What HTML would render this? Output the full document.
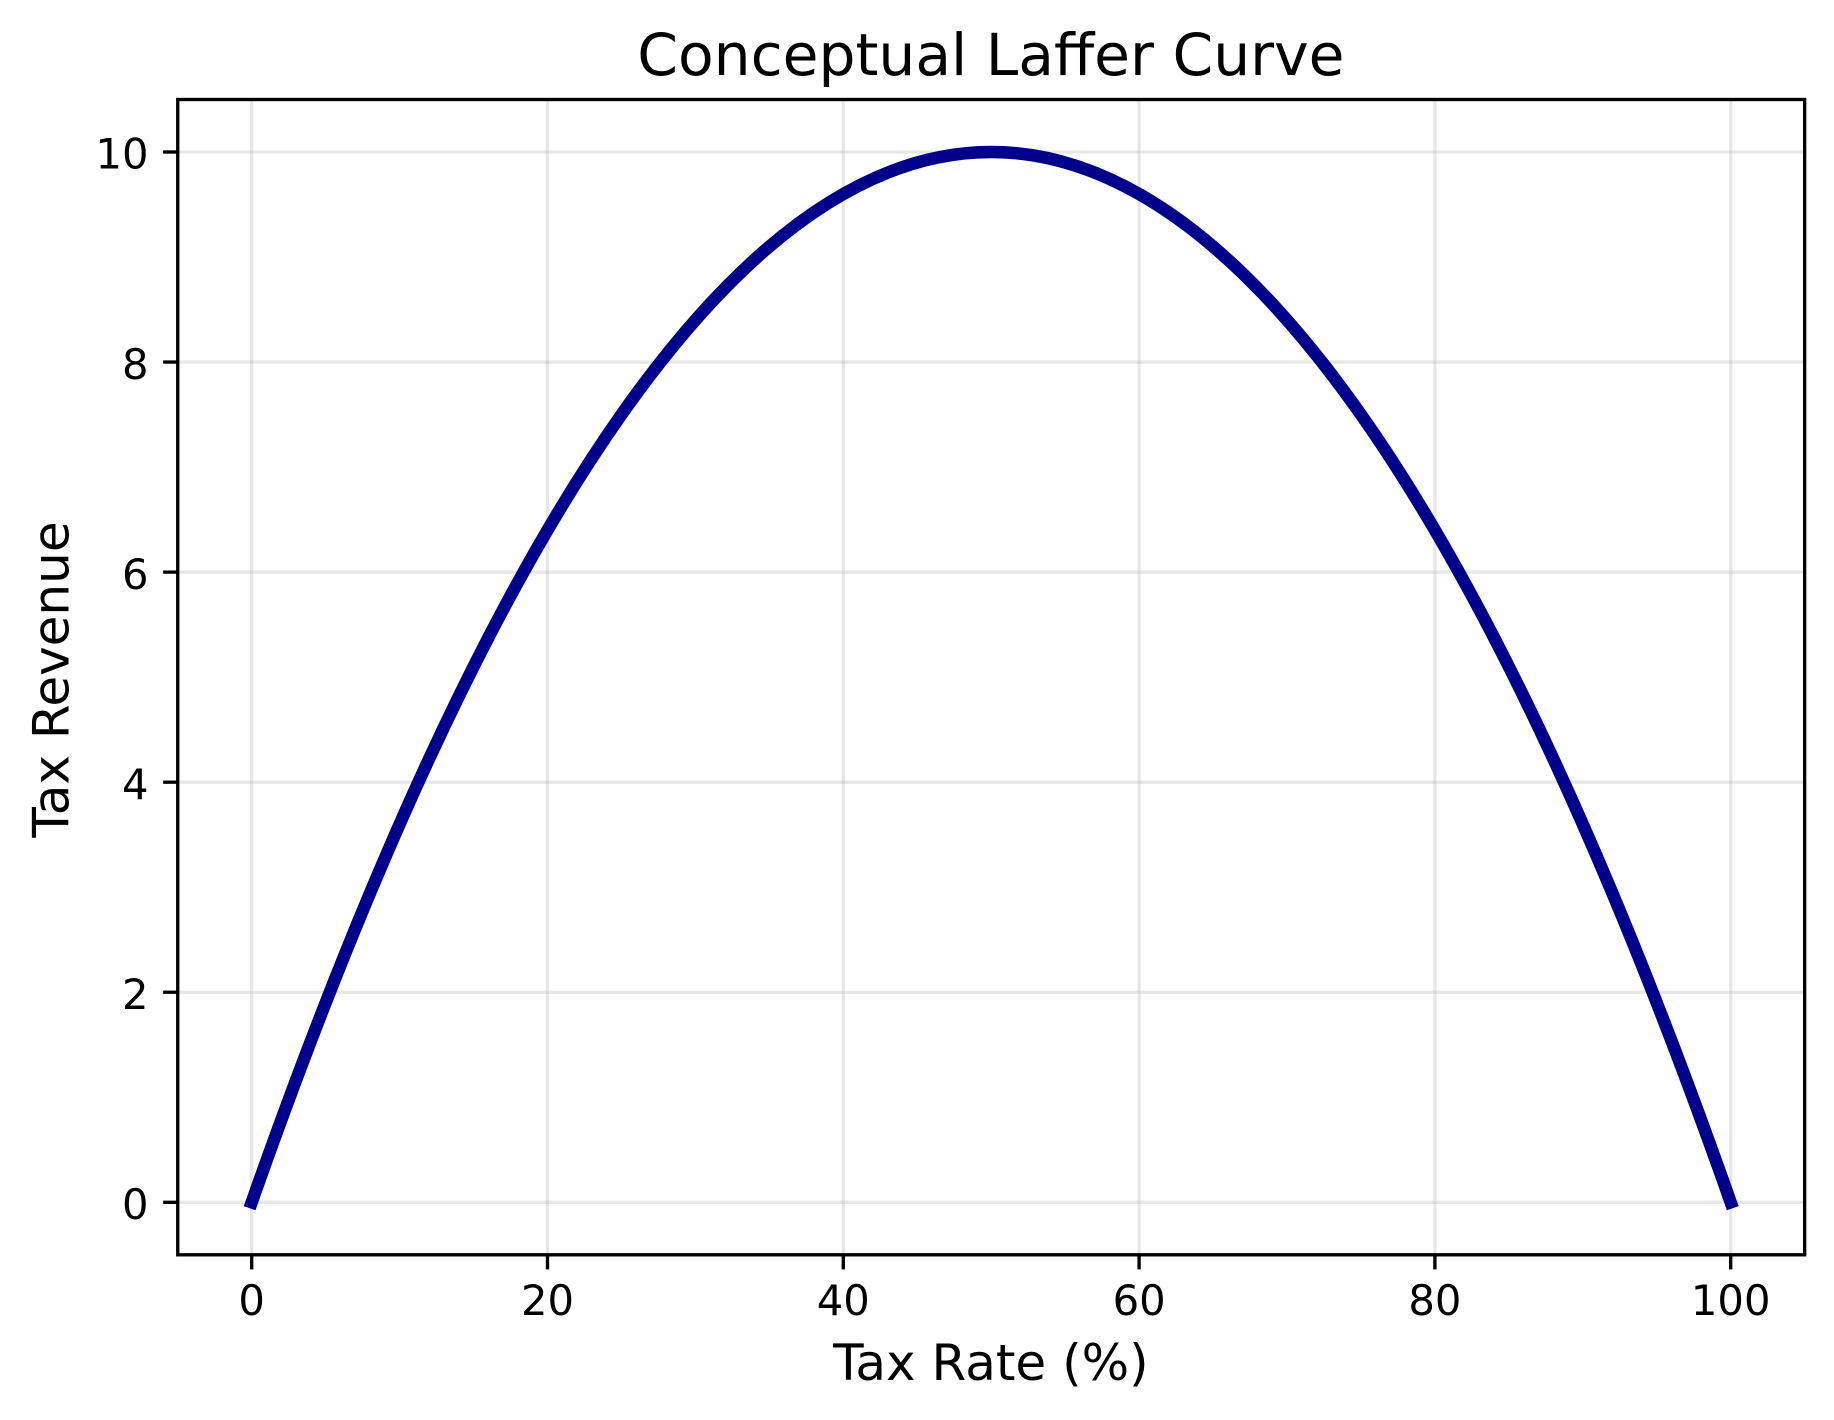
<!DOCTYPE html>
<html>
<head>
<meta charset="utf-8">
<style>
  html, body { margin: 0; padding: 0; background: #ffffff; }
  svg { display: block; }
  text { font-family: "DejaVu Sans", "Liberation Sans", sans-serif; fill: #000000; }
</style>
</head>
<body>
<svg width="1834" height="1420" viewBox="0 0 1834 1420" xmlns="http://www.w3.org/2000/svg">
  <rect x="0" y="0" width="1834" height="1420" fill="#ffffff"/>
  <defs>
    <clipPath id="ax">
      <rect x="177.75" y="99.5" width="1626.9" height="1155.3"/>
    </clipPath>
  </defs>

  <!-- grid -->
  <g stroke="#b0b0b0" stroke-opacity="0.3" stroke-width="3.33">
    <line x1="251.7" y1="99.5" x2="251.7" y2="1254.8"/>
    <line x1="547.5" y1="99.5" x2="547.5" y2="1254.8"/>
    <line x1="843.3" y1="99.5" x2="843.3" y2="1254.8"/>
    <line x1="1139.1" y1="99.5" x2="1139.1" y2="1254.8"/>
    <line x1="1434.9" y1="99.5" x2="1434.9" y2="1254.8"/>
    <line x1="1730.7" y1="99.5" x2="1730.7" y2="1254.8"/>
    <line x1="177.75" y1="1202.3" x2="1804.65" y2="1202.3"/>
    <line x1="177.75" y1="992.24" x2="1804.65" y2="992.24"/>
    <line x1="177.75" y1="782.18" x2="1804.65" y2="782.18"/>
    <line x1="177.75" y1="572.12" x2="1804.65" y2="572.12"/>
    <line x1="177.75" y1="362.06" x2="1804.65" y2="362.06"/>
    <line x1="177.75" y1="152" x2="1804.65" y2="152"/>
  </g>

  <!-- curve -->
  <path d="M251.7,1202.3 Q991.2,-898.3 1730.7,1202.3" fill="none" stroke="#00008b" stroke-width="12.5" stroke-linecap="square" clip-path="url(#ax)"/>

  <!-- spines -->
  <rect x="177.75" y="99.5" width="1626.9" height="1155.3" fill="none" stroke="#000000" stroke-width="3.33"/>

  <!-- ticks -->
  <g stroke="#000000" stroke-width="3.33">
    <line x1="251.7" y1="1254.8" x2="251.7" y2="1269.4"/>
    <line x1="547.5" y1="1254.8" x2="547.5" y2="1269.4"/>
    <line x1="843.3" y1="1254.8" x2="843.3" y2="1269.4"/>
    <line x1="1139.1" y1="1254.8" x2="1139.1" y2="1269.4"/>
    <line x1="1434.9" y1="1254.8" x2="1434.9" y2="1269.4"/>
    <line x1="1730.7" y1="1254.8" x2="1730.7" y2="1269.4"/>
    <line x1="163.15" y1="1202.3" x2="177.75" y2="1202.3"/>
    <line x1="163.15" y1="992.24" x2="177.75" y2="992.24"/>
    <line x1="163.15" y1="782.18" x2="177.75" y2="782.18"/>
    <line x1="163.15" y1="572.12" x2="177.75" y2="572.12"/>
    <line x1="163.15" y1="362.06" x2="177.75" y2="362.06"/>
    <line x1="163.15" y1="152" x2="177.75" y2="152"/>
  </g>

  <!-- x tick labels -->
  <g font-size="41.7" text-anchor="middle">
    <text x="251.7" y="1315">0</text>
    <text x="547.5" y="1315">20</text>
    <text x="843.3" y="1315">40</text>
    <text x="1139.1" y="1315">60</text>
    <text x="1434.9" y="1315">80</text>
    <text x="1730.7" y="1315">100</text>
  </g>

  <!-- y tick labels -->
  <g font-size="41.7" text-anchor="end">
    <text x="148.5" y="1219">0</text>
    <text x="148.5" y="1008.9">2</text>
    <text x="148.5" y="798.9">4</text>
    <text x="148.5" y="588.8">6</text>
    <text x="148.5" y="378.8">8</text>
    <text x="148.5" y="168.7">10</text>
  </g>

  <!-- title -->
  <text x="990.9" y="75" font-size="58.3" text-anchor="middle">Conceptual Laffer Curve</text>

  <!-- axis labels -->
  <text x="990.9" y="1380" font-size="50" text-anchor="middle">Tax Rate (%)</text>
  <text transform="translate(68.3,679.5) rotate(-90)" x="0" y="0" font-size="50" text-anchor="middle">Tax Revenue</text>
</svg>
</body>
</html>
